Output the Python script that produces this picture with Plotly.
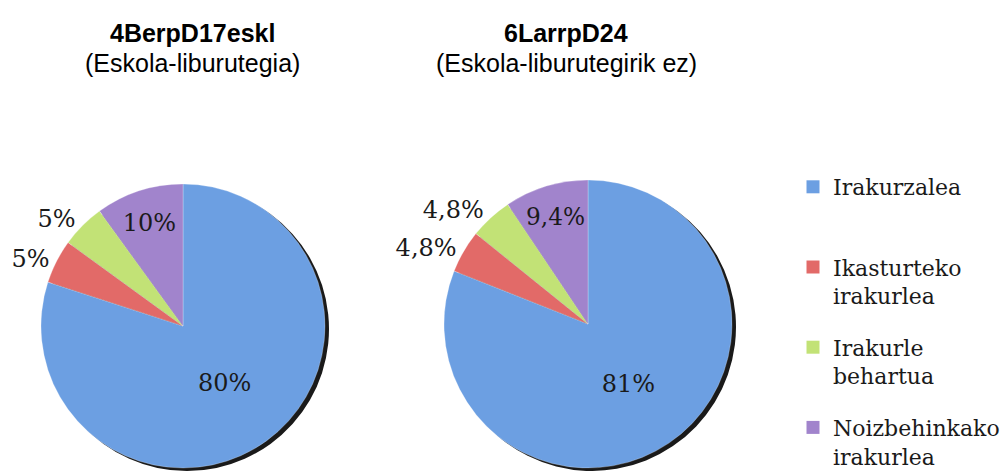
import plotly.graph_objects as go

categories = ["Irakurzalea", "Ikasturteko irakurlea", "Irakurle behartua", "Noizbehinkako irakurlea"]
legend_labels = ["Irakurzalea<br> ", "Ikasturteko<br>irakurlea", "Irakurle<br>behartua", "Noizbehinkako<br>irakurlea"]
values_1 = [80, 5, 5, 10]
values_2 = [81, 4.8, 4.8, 9.4]
title_1 = ("4BerpD17eskl", "(Eskola-liburutegia)")
title_2 = ("6LarrpD24", "(Eskola-liburutegirik ez)")

colors = ["#6c9fe2", "#e26a68", "#c2e276", "#a184cc"]
W, H = 1003, 471
SERIF = "DejaVu Serif"
SANS = "Liberation Sans, Arial"


def fmt(v):
    return f"{v:g}".replace(".", ",") + "%"


def dom(cx, cy, r, dx=0, dy=0):
    cx += dx
    cy += dy
    return dict(x=[(cx - r) / W, (cx + r) / W], y=[(H - cy - r) / H, (H - cy + r) / H])


positions = ["inside", "outside", "outside", "inside"]

fig = go.Figure()
pies = [(values_1, 183, 326, 142), (values_2, 588, 324, 144)]
for vals, cx, cy, r in pies:
    # shadow
    fig.add_trace(go.Pie(values=vals, labels=categories, sort=False, direction="clockwise", rotation=0,
                         domain=dom(cx, cy, r, 4, 3), marker=dict(colors=["#1a1a1a"] * 4, line=dict(width=0)),
                         textinfo="none", hoverinfo="skip", showlegend=False))
    fig.add_trace(go.Pie(values=vals, labels=categories, sort=False, direction="clockwise", rotation=0,
                         domain=dom(cx, cy, r), marker=dict(colors=colors, line=dict(color="rgba(255,255,255,0.5)", width=0.5)),
                         text=[fmt(v) for v in vals], textinfo="text", textposition=positions,
                         insidetextorientation="horizontal",
                         insidetextfont=dict(family=SERIF, size=24, color="#1a1a1a"),
                         outsidetextfont=dict(family=SERIF, size=24, color="#1a1a1a"),
                         showlegend=False))

for lab, col in zip(legend_labels, colors):
    fig.add_trace(go.Scatter(x=[None], y=[None], mode="markers", name=lab, legendgroup=lab,
                             marker=dict(symbol="square", size=13, color=col)))

for (t1, t2), cx in [(title_1, 192), (title_2, 566)]:
    fig.add_annotation(x=cx / W, y=1 - 33 / H, xref="paper", yref="paper", text=f"<b>{t1}</b>",
                       xanchor="center", yanchor="middle",
                       showarrow=False, font=dict(family=SANS, size=25, color="#000"))
    fig.add_annotation(x=cx / W, y=1 - 63 / H, xref="paper", yref="paper", text=t2,
                       xanchor="center", yanchor="middle",
                       showarrow=False, font=dict(family=SANS, size=25, color="#000"))

fig.update_layout(
    width=W, height=H, margin=dict(l=0, r=0, t=0, b=0, autoexpand=False),
    paper_bgcolor="white", plot_bgcolor="white",
    xaxis=dict(visible=False), yaxis=dict(visible=False),
    showlegend=True,
    legend=dict(x=793 / W, y=1 - 166 / H, xanchor="left", yanchor="top", valign="top",
                tracegroupgap=20, traceorder="grouped",
                font=dict(family=SERIF, size=22, color="#1a1a1a"), bgcolor="rgba(0,0,0,0)"),
)

fig.write_html("out.html")
